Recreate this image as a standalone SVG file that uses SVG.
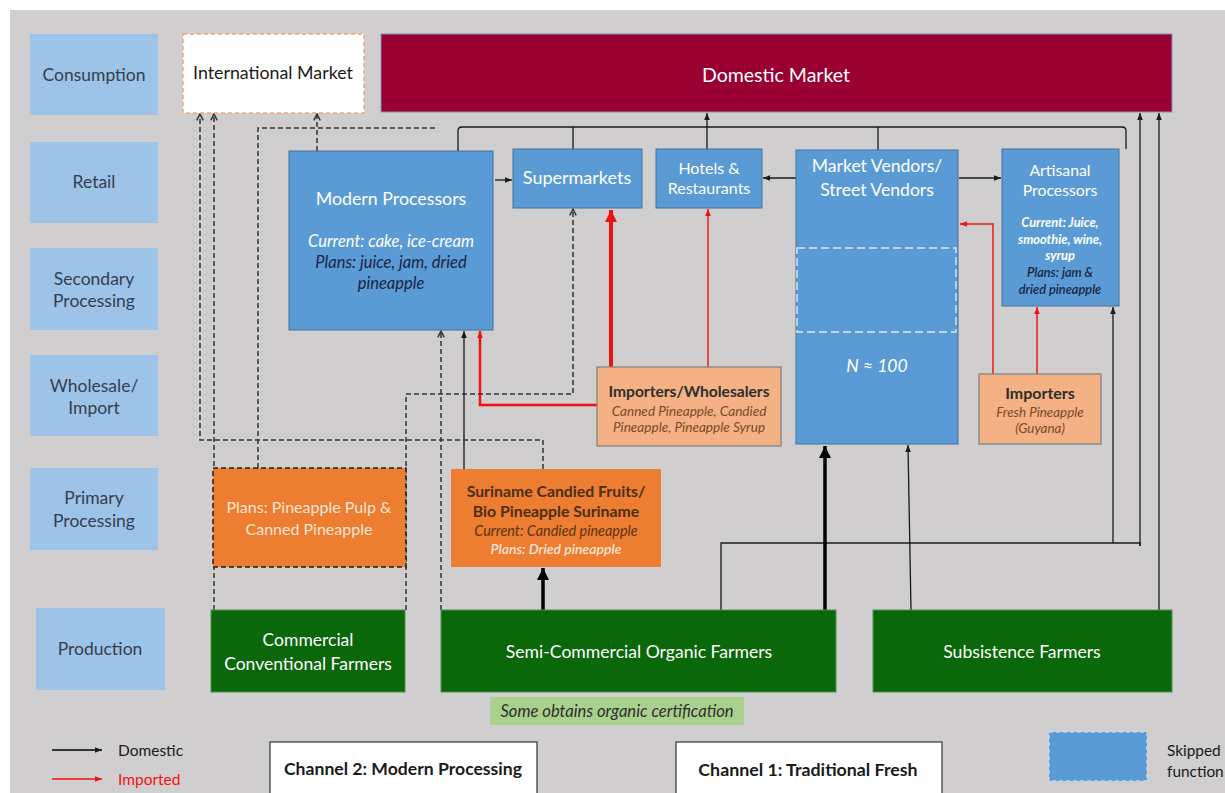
<svg xmlns="http://www.w3.org/2000/svg" width="1225" height="793" viewBox="0 0 1225 793">
<style>
text{font-family:Lato,"Liberation Sans",sans-serif;text-anchor:middle}
.lab{fill:#9dc3e6}
.labt{fill:#333f50;font-size:17.5px}
.blue{fill:#5b9bd5;stroke:#41719c;stroke-width:1}
.w{fill:#ffffff}
.dk{fill:#1a2540}
.it{font-style:italic}
.b{font-weight:bold}
.lor{fill:#f4b183;stroke:#7f7f7f;stroke-width:1.2}
.dor{fill:#ed7d31}
.grn{fill:#0a670a;stroke:#4d944d;stroke-width:1}
.sl{fill:none;stroke:#1a1a1a;stroke-width:1.3}
.thick{fill:none;stroke:#000;stroke-width:3.5}
.rl{fill:none;stroke:#f01010;stroke-width:1.4}
.dl{fill:none;stroke:#333;stroke-width:1.5;stroke-dasharray:5 3}
</style>
<defs>
<marker id="ab" viewBox="0 0 10 10" refX="10" refY="5" markerWidth="8" markerHeight="7" orient="auto" markerUnits="userSpaceOnUse"><path d="M0,1 L10,5 L0,9 z" fill="#1a1a1a"/></marker>
<marker id="abb" viewBox="0 0 10 10" refX="10" refY="5" markerWidth="12" markerHeight="12" orient="auto" markerUnits="userSpaceOnUse"><path d="M0,0 L10,5 L0,10 z" fill="#000"/></marker>
<marker id="ar" viewBox="0 0 10 10" refX="10" refY="5" markerWidth="8" markerHeight="7" orient="auto" markerUnits="userSpaceOnUse"><path d="M0,1 L10,5 L0,9 z" fill="#f01010"/></marker>
<marker id="arb" viewBox="0 0 10 10" refX="10" refY="5" markerWidth="12" markerHeight="12" orient="auto" markerUnits="userSpaceOnUse"><path d="M0,0 L10,5 L0,10 z" fill="#f01010"/></marker>
<marker id="ao" viewBox="0 0 10 10" refX="9" refY="5" markerWidth="8" markerHeight="8" orient="auto" markerUnits="userSpaceOnUse"><path d="M1,1 L9,5 L1,9" fill="none" stroke="#333" stroke-width="1.8"/></marker>
</defs>
<rect x="0" y="0" width="1225" height="793" fill="#ffffff"/>
<rect x="10" y="10" width="1215" height="783" fill="#d0cece"/>

<g id="stage-labels">
<rect class="lab" x="30" y="34" width="128" height="81"/>
<text class="labt" x="94" y="81">Consumption</text>
<rect class="lab" x="30" y="142" width="128" height="81"/>
<text class="labt" x="94" y="188">Retail</text>
<rect class="lab" x="30" y="248" width="128" height="82"/>
<text class="labt" x="94" y="285">Secondary</text>
<text class="labt" x="94" y="307">Processing</text>
<rect class="lab" x="30" y="355" width="128" height="81"/>
<text class="labt" x="94" y="392">Wholesale/</text>
<text class="labt" x="94" y="414">Import</text>
<rect class="lab" x="30" y="468" width="128" height="82"/>
<text class="labt" x="94" y="504">Primary</text>
<text class="labt" x="94" y="527">Processing</text>
<rect class="lab" x="36" y="608" width="129" height="82"/>
<text class="labt" x="100" y="655">Production</text>
</g>

<g id="connectors">
<path class="sl" d="M458,151 V131 Q458,127 462,127 H1122 Q1126,127 1126,131 V149"/>
<path class="sl" d="M573,127 V149"/>
<path class="sl" d="M878,127 V150"/>
<path class="sl" d="M707,149 V113" marker-end="url(#ab)"/>
<path class="sl" d="M495,180 H512" marker-end="url(#ab)"/>
<path class="sl" d="M796,178 H763" marker-end="url(#ab)"/>
<path class="sl" d="M959,178 H1001" marker-end="url(#ab)"/>
<path class="sl" d="M464,469 V331" marker-end="url(#ab)"/>
<path class="sl" d="M721,610 V543 H1140 V546"/>
<path class="sl" d="M1140,546 V113" marker-end="url(#ab)"/>
<path class="sl" d="M1113,543 V307" marker-end="url(#ab)"/>
<path class="sl" d="M1159,610 V113" marker-end="url(#ab)"/>
<path class="sl" d="M911,610 L908,445" marker-end="url(#ab)"/>
<path class="thick" d="M825,610 V446" marker-end="url(#abb)"/>
<path class="thick" d="M543,610 V568" marker-end="url(#abb)"/>
<path class="rl" style="stroke-width:4" d="M611,367 V210" marker-end="url(#arb)"/>
<path class="rl" d="M708,367 V209" marker-end="url(#ar)"/>
<path class="rl" style="stroke-width:2.5" d="M597,405 H480 V331" marker-end="url(#ar)"/>
<path class="rl" d="M1037,374 V307" marker-end="url(#ar)"/>
<path class="rl" d="M993,374 V224 H960" marker-end="url(#ar)"/>
<path class="dl" d="M543,469 V440 H200 V114" marker-end="url(#ao)"/>
<path class="dl" d="M214,610 V114" marker-end="url(#ao)"/>
<path class="dl" d="M258,468 V128 H438"/>
<path class="dl" d="M317,151 V114" marker-end="url(#ao)"/>
<path class="dl" d="M406,610 V394 H573 V209" marker-end="url(#ao)"/>
<path class="dl" d="M441,610 V331" marker-end="url(#ao)"/>
</g>

<g id="international-market">
<rect x="183" y="34" width="181" height="79" fill="#ffffff" stroke="#f0a878" stroke-width="1.5" stroke-dasharray="4 3"/>
<text x="273" y="79" fill="#1a1a1a" font-size="17.8">International Market</text>
</g>
<g id="domestic-market">
<rect x="381" y="34" width="791" height="78" fill="#9b0033" stroke="#8296b8" stroke-width="1"/>
<text x="776" y="82" fill="#ffffff" font-size="19.5">Domestic Market</text>
</g>
<g id="modern-processors">
<rect class="blue" x="289" y="151" width="204" height="179"/>
<text class="w" x="391" y="205" font-size="17.8">Modern Processors</text>
<text class="w it" x="391" y="247" font-size="16.5">Current: cake, ice-cream</text>
<text class="dk it" x="391" y="268" font-size="16.5">Plans: juice, jam, dried</text>
<text class="dk it" x="391" y="289" font-size="16.5">pineapple</text>
</g>
<g id="supermarkets">
<rect class="blue" x="513" y="149" width="129" height="59"/>
<text class="w" x="577" y="184" font-size="18">Supermarkets</text>
</g>
<g id="hotels-restaurants">
<rect class="blue" x="656" y="149" width="106" height="59"/>
<text class="w" x="709" y="174" font-size="16">Hotels &amp;</text>
<text class="w" x="709" y="194" font-size="16">Restaurants</text>
</g>
<g id="market-vendors">
<rect class="blue" x="796" y="150" width="162" height="294"/>
<rect x="797" y="248" width="159" height="84" fill="none" stroke="#bdd7ee" stroke-width="1.8" stroke-dasharray="8 4"/>
<text class="w" x="877" y="172" font-size="17.6">Market Vendors/</text>
<text class="w" x="877" y="196" font-size="17.6">Street Vendors</text>
<text class="w it" x="877" y="372" font-size="17.6">N ≈ 100</text>
</g>
<g id="artisanal-processors">
<rect class="blue" x="1002" y="149" width="117" height="157"/>
<text class="w" x="1060" y="176" font-size="15.8">Artisanal</text>
<text class="w" x="1060" y="196" font-size="15.8">Processors</text>
<text class="w it b" x="1060" y="227" font-size="12.8">Current: Juice,</text>
<text class="w it b" x="1060" y="244" font-size="12.8">smoothie, wine,</text>
<text class="w it b" x="1060" y="260" font-size="12.8">syrup</text>
<text class="dk it" x="1060" y="277" font-size="12.8" font-weight="600">Plans: jam &amp;</text>
<text class="dk it" x="1060" y="294" font-size="12.8" font-weight="600">dried pineapple</text>
</g>
<g id="importers-wholesalers">
<rect class="lor" x="597" y="367" width="184" height="79"/>
<text x="689" y="397" fill="#2e2e2e" font-size="15.6" font-weight="bold">Importers/Wholesalers</text>
<text class="it" x="689" y="416" fill="#7a4a26" font-size="13.6">Canned Pineapple, Candied</text>
<text class="it" x="689" y="432" fill="#7a4a26" font-size="13.6">Pineapple, Pineapple Syrup</text>
</g>
<g id="importers-guyana">
<rect class="lor" x="979" y="374" width="122" height="70"/>
<text x="1040" y="399" fill="#2e2e2e" font-size="16" font-weight="bold">Importers</text>
<text class="it" x="1040" y="417" fill="#7a4a26" font-size="13.4">Fresh Pineapple</text>
<text class="it" x="1040" y="433" fill="#7a4a26" font-size="13.4">(Guyana)</text>
</g>
<g id="pulp-canned-plans">
<rect class="dor" x="213" y="468" width="193" height="99" stroke="#222" stroke-width="1.5" stroke-dasharray="5 3"/>
<text x="309" y="513" fill="#fbe5d6" font-size="16">Plans: Pineapple Pulp &amp;</text>
<text x="309" y="535" fill="#fbe5d6" font-size="16">Canned Pineapple</text>
</g>
<g id="suriname-candied">
<rect class="dor" x="451" y="469" width="210" height="98"/>
<text x="556" y="497" fill="#4a2e14" font-size="15.8" font-weight="bold">Suriname Candied Fruits/</text>
<text x="556" y="517" fill="#4a2e14" font-size="15.8" font-weight="bold">Bio Pineapple Suriname</text>
<text class="it" x="556" y="536" fill="#5a3214" font-size="14.4">Current: Candied pineapple</text>
<text class="it" x="556" y="554" fill="#fbe5d6" font-size="14" font-weight="600">Plans: Dried pineapple</text>
</g>
<g id="commercial-farmers">
<rect class="grn" x="211" y="610" width="194" height="82"/>
<text class="w" x="308" y="646" font-size="17.5">Commercial</text>
<text class="w" x="308" y="670" font-size="17.5">Conventional Farmers</text>
</g>
<g id="semi-commercial-farmers">
<rect class="grn" x="441" y="610" width="395" height="82"/>
<text class="w" x="639" y="658" font-size="17.6">Semi-Commercial Organic Farmers</text>
</g>
<g id="subsistence-farmers">
<rect class="grn" x="873" y="610" width="299" height="82"/>
<text class="w" x="1022" y="658" font-size="17.6">Subsistence Farmers</text>
</g>
<g id="organic-note">
<rect x="490" y="697" width="254" height="28" fill="#a9d18e"/>
<text class="it" x="617" y="717" fill="#2e2e2e" font-size="16.6">Some obtains organic certification</text>
</g>
<g id="legend">
<path d="M52,750 H102" stroke="#000" stroke-width="1.6" marker-end="url(#ab)"/>
<text x="118" y="756" fill="#1a1a1a" font-size="15.5" style="text-anchor:start">Domestic</text>
<path d="M52,779 H102" stroke="#f01010" stroke-width="1.6" marker-end="url(#ar)"/>
<text x="118" y="785" fill="#f01010" font-size="15.5" style="text-anchor:start">Imported</text>
<rect x="270" y="742" width="267" height="60" fill="#ffffff" stroke="#333" stroke-width="1.2"/>
<text class="b" x="403" y="775" fill="#1a1a1a" font-size="17.6">Channel 2: Modern Processing</text>
<rect x="676" y="742" width="266" height="60" fill="#ffffff" stroke="#333" stroke-width="1.2"/>
<text class="b" x="808" y="776" fill="#1a1a1a" font-size="17.8">Channel 1: Traditional Fresh</text>
<rect x="1049" y="732" width="98" height="49" fill="#5b9bd5" stroke="#bdd7ee" stroke-width="1.5" stroke-dasharray="4 3"/>
<text x="1167" y="756" fill="#1a1a1a" font-size="15.4" style="text-anchor:start">Skipped</text>
<text x="1167" y="777" fill="#1a1a1a" font-size="15.4" style="text-anchor:start">function</text>
</g>
</svg>
